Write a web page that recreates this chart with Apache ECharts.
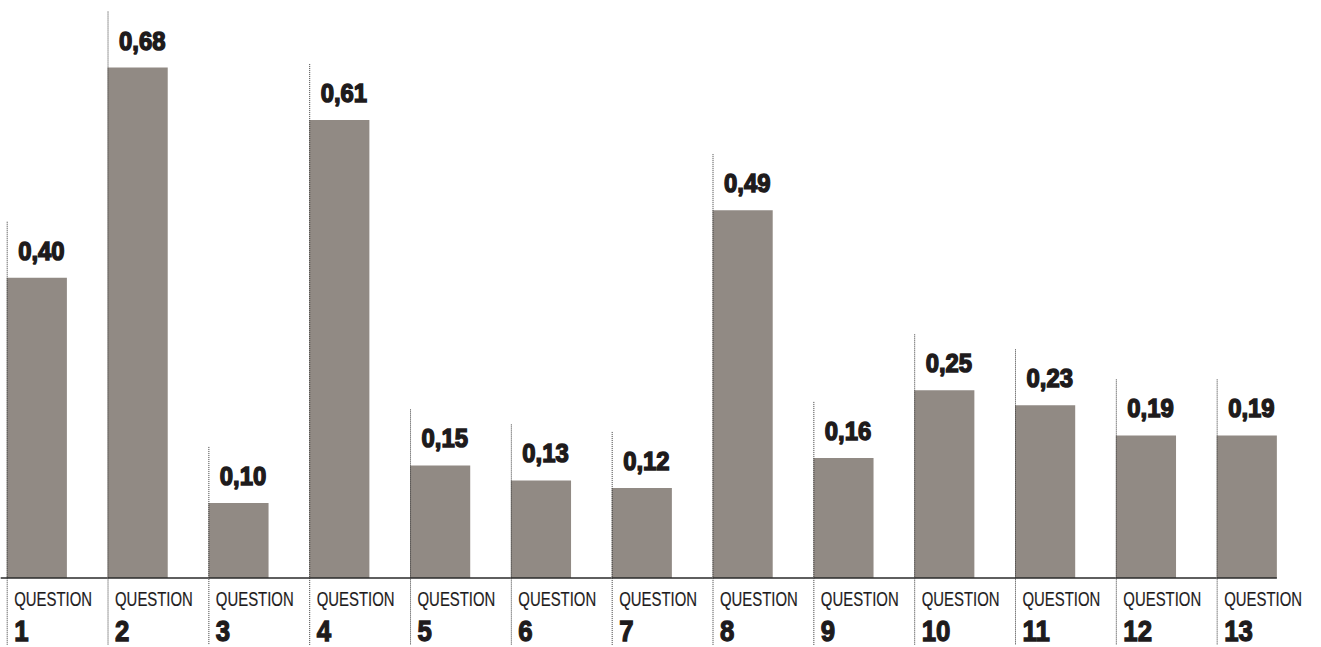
<!DOCTYPE html>
<html>
<head>
<meta charset="utf-8">
<script src="https://cdn.jsdelivr.net/npm/echarts@6/dist/echarts.min.js"></script>
<style>
  html, body { margin: 0; padding: 0; background: #fff; }
  #chart { width: 1321px; height: 647px; }
</style>
</head>
<body>
<div id="chart"></div>
<script>
// Question numbers along the x axis
const categories = ['1', '2', '3', '4', '5', '6', '7', '8', '9', '10', '11', '12', '13'];
// Score per question
const values = [0.40, 0.68, 0.10, 0.61, 0.15, 0.13, 0.12, 0.49, 0.16, 0.25, 0.23, 0.19, 0.19];
const categoryPrefix = 'QUESTION';

const FONT = "'Liberation Sans', Arial, sans-serif";
const BAR_COLOR = '#918a84';
const INK = '#1e1b1c';

const fmt = v => v.toFixed(2).replace('.', ',');

// A narrowed text element: the font is squeezed horizontally around its left edge
function narrowText(x, y, text, font, squeeze, heavy) {
  return {
    type: 'text',
    x: x, y: y,
    scaleX: squeeze, scaleY: 1,
    originX: 0, originY: 0,
    style: {
      x: 0, y: 0,
      text: text,
      fill: INK,
      stroke: heavy ? INK : null,
      lineWidth: heavy || 0,
      font: font,
      align: 'left', verticalAlign: 'middle'
    }
  };
}

function renderItem(params, api) {
  const idx = api.value(0);
  const v = api.value(1);
  const band = api.size([1, 0])[0];
  const top = api.coord([idx, v]);
  const base = api.coord([idx, 0]);
  const left = top[0] - band / 2;
  const barW = band * 0.597;
  const last = idx === categories.length - 1;
  return {
    type: 'group',
    children: [
      {
        type: 'rect',
        shape: { x: left, y: top[1], width: barW, height: base[1] - top[1] },
        style: { fill: BAR_COLOR }
      },
      {
        type: 'line',
        shape: { x1: left + 0.5, y1: top[1] - 56, x2: left + 0.5, y2: base[1] + 67 },
        style: { stroke: '#3a3a3a', lineWidth: 1, lineDash: [1, 1] }
      },
      {
        type: 'line',
        shape: {
          x1: idx === 0 ? left - 6 : left,
          y1: base[1],
          x2: last ? left + barW : left + band,
          y2: base[1]
        },
        style: { stroke: '#2a2a2a', lineWidth: 1.6 }
      },
      narrowText(left + 11.5, top[1] - 27.5, fmt(v), 'bold 26.5px ' + FONT, 0.9, 1.5),
      narrowText(left + 7.5, base[1] + 21, categoryPrefix, '21px ' + FONT, 0.71, 0.2),
      narrowText(left + 7.5, base[1] + 53, categories[idx], 'bold 30px ' + FONT, 0.86, 1.3)
    ]
  };
}

const chart = echarts.init(document.getElementById('chart'), null, { renderer: 'svg' });
chart.setOption({
  animation: false,
  grid: { left: 6.7, right: 3.5, top: 0, bottom: 69 },
  xAxis: {
    type: 'category',
    data: categories,
    boundaryGap: true,
    axisLine: { show: false },
    axisTick: { show: false },
    axisLabel: { show: false },
    splitLine: { show: false }
  },
  yAxis: {
    type: 'value',
    min: 0,
    max: 0.77,
    show: false,
    splitLine: { show: false }
  },
  series: [{
    type: 'custom',
    renderItem: renderItem,
    data: values.map((v, i) => [i, v]),
    clip: false
  }]
});
</script>
</body>
</html>
